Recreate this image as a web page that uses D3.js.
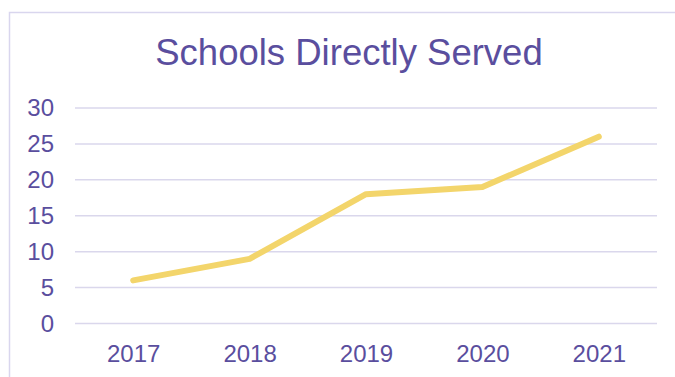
<!DOCTYPE html>
<html>
<head>
<meta charset="utf-8">
<script src="https://cdn.jsdelivr.net/npm/d3@7"></script>
<style>
  body { margin: 0; background: #fff; }
  svg { display: block; font-family: "Liberation Sans", Arial, sans-serif; }
</style>
</head>
<body>
<div id="chart-area"></div>
<script>
// Data
const years = ["2017", "2018", "2019", "2020", "2021"];
const schools = [6, 9, 18, 19, 26];
const yTicks = [0, 5, 10, 15, 20, 25, 30];

const W = 675, H = 377;
const margin = { top: 108, right: 18, bottom: 53.5, left: 75 };
const width = W - margin.left - margin.right;
const height = H - margin.top - margin.bottom;

const textColor = "#5a4e9e";
const gridColor = "#dad7ec";

const svg = d3.select("#chart-area")
  .append("svg")
    .attr("width", W)
    .attr("height", H);

// outer frame (right/bottom fall outside the picture)
svg.append("rect")
  .attr("x", 9.5)
  .attr("y", 12.5)
  .attr("width", 700)
  .attr("height", 400)
  .attr("fill", "none")
  .attr("stroke", "#d9d6ee")
  .attr("stroke-width", 1.5);

svg.append("text")
  .attr("x", 349)
  .attr("y", 65)
  .attr("text-anchor", "middle")
  .style("font-size", "36.5px")
  .style("fill", textColor)
  .text("Schools Directly Served");

const g = svg.append("g")
  .attr("transform", `translate(${margin.left},${margin.top})`);

// Scales
const x = d3.scalePoint()
  .domain(years)
  .range([0, width])
  .padding(0.5);

const y = d3.scaleLinear()
  .domain([0, 30])
  .range([height, 0]);

// Gridlines
g.append("g")
  .selectAll("line")
  .data(yTicks)
  .enter().append("line")
    .attr("x1", 0)
    .attr("x2", width)
    .attr("y1", d => y(d))
    .attr("y2", d => y(d))
    .attr("stroke", gridColor)
    .attr("stroke-width", 1.5);

// Axes
const yAxis = d3.axisLeft(y).tickValues(yTicks).tickSize(0).tickPadding(21);
const xAxis = d3.axisBottom(x).tickSize(0).tickPadding(21);

const yAxisGroup = g.append("g").call(yAxis);
const xAxisGroup = g.append("g")
  .attr("transform", `translate(0,${height})`)
  .call(xAxis);

[yAxisGroup, xAxisGroup].forEach(ax => {
  ax.select(".domain").remove();
  ax.selectAll("text")
    .style("font-size", "24px")
    .style("font-family", "\"Liberation Sans\", Arial, sans-serif")
    .style("fill", textColor);
});

// Line
const line = d3.line()
  .x((d, i) => x(years[i]))
  .y(d => y(d));

g.append("path")
  .datum(schools)
  .attr("d", line)
  .attr("fill", "none")
  .attr("stroke", "#f3d56b")
  .attr("stroke-width", 6)
  .attr("stroke-linecap", "round")
  .attr("stroke-linejoin", "round");
</script>
</body>
</html>
